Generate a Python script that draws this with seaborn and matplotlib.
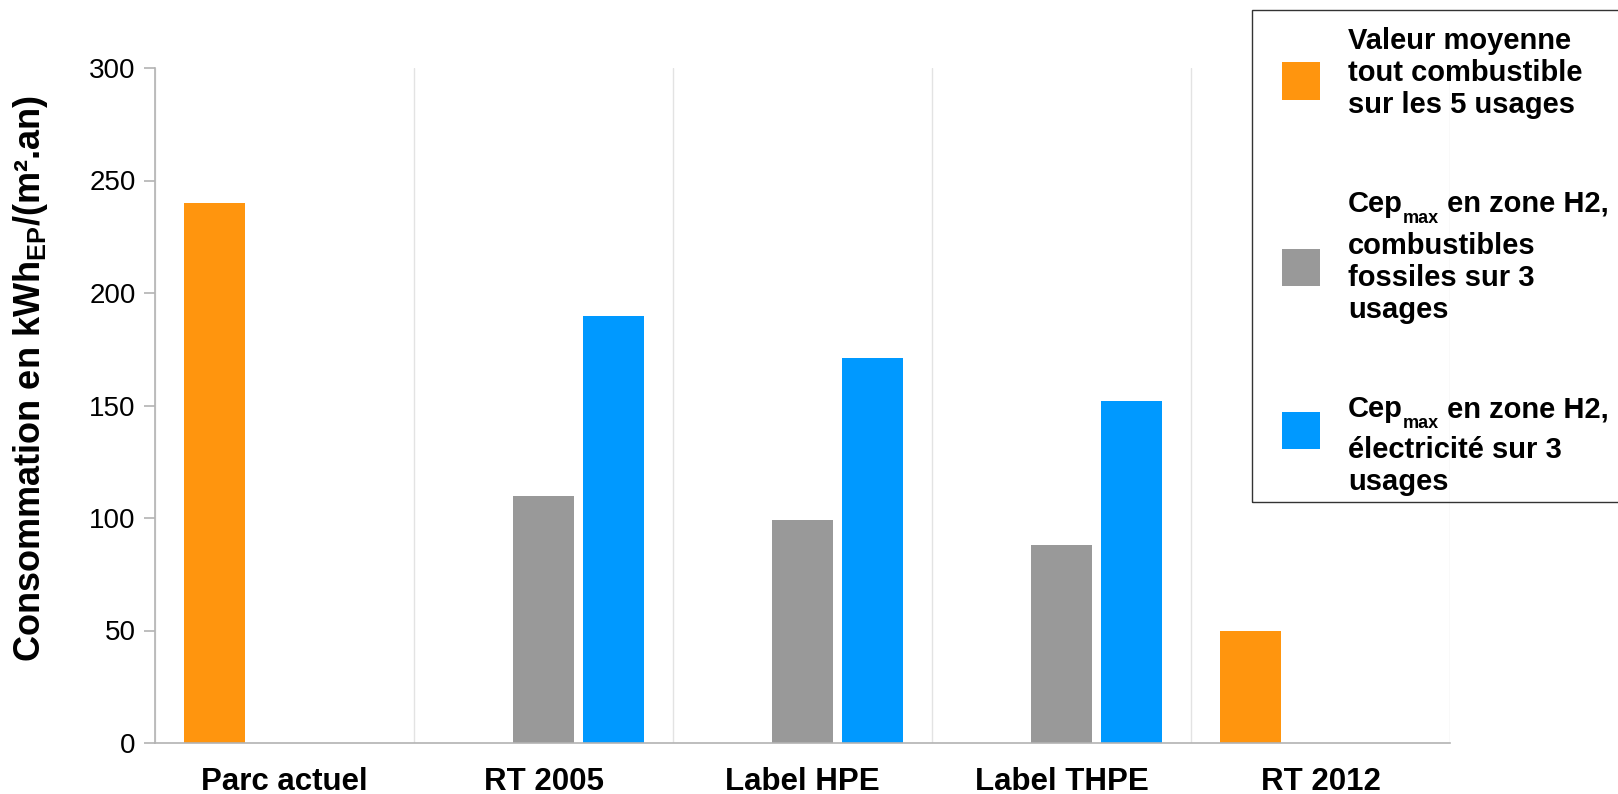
import numpy as np
import pandas as pd
import matplotlib
matplotlib.use("Agg")
import matplotlib.pyplot as plt
import seaborn as sns
from matplotlib.patches import Rectangle
from matplotlib import font_manager

# ---- data ----
categories = ["Parc actuel", "RT 2005", "Label HPE", "Label THPE", "RT 2012"]
series_keys = ["moyenne", "fossiles", "electricite"]
moyenne = [240, np.nan, np.nan, np.nan, 50]
fossiles = [np.nan, 110, 99, 88, np.nan]
electricite = [np.nan, 190, 171, 152, np.nan]
y_ticks = [0, 50, 100, 150, 200, 250, 300]
colors = ["#FF950E", "#999999", "#0099FF"]
# each legend line: list of (text, is_subscript) pieces
legend_lines = [
    [[("Valeur moyenne", False)], [("tout combustible", False)], [("sur les 5 usages", False)]],
    [[("Cep", False), ("max", True), (" en zone H2,", False)],
     [("combustibles", False)], [("fossiles sur 3", False)], [("usages", False)]],
    [[("Cep", False), ("max", True), (" en zone H2,", False)],
     [("électricité sur 3", False)], [("usages", False)]],
]
y_label = "Consommation en kWh$_{EP}$/(m².an)"

# ---- style ----
sns.set_style("white")
plt.rcParams["font.family"] = ["Liberation Sans", "DejaVu Sans"]
plt.rcParams["mathtext.default"] = "regular"
for k in ["text.color", "axes.labelcolor", "xtick.labelcolor", "ytick.labelcolor"]:
    plt.rcParams[k] = "black"
installed = {f.name for f in font_manager.fontManager.ttflist}
tick_family = "Liberation Sans Narrow" if "Liberation Sans Narrow" in installed else "Liberation Sans"

W, H = 1618, 794
fig = plt.figure(figsize=(W / 100, H / 100), dpi=100)
ax = fig.add_axes([155 / W, 51 / H, 1295 / W, 675 / H])

rows = []
for key, vals in zip(series_keys, [moyenne, fossiles, electricite]):
    for cat, v in zip(categories, vals):
        if not np.isnan(v):
            rows.append({"categorie": cat, "serie": key, "valeur": v})
df = pd.DataFrame(rows)

sns.barplot(data=df, x="categorie", y="valeur", hue="serie",
            order=categories, hue_order=series_keys, palette=colors,
            width=0.81, gap=0.128, dodge=True, saturation=1,
            errorbar=None, legend=False, linewidth=0, ax=ax)

ax.set_xlim(-0.5, 4.5)
ax.set_ylim(0, 300)
ax.set_xlabel("")

# category boundaries: minor ticks + vertical grid
ax.set_xticks(range(len(categories)))
ax.set_xticklabels(categories, fontsize=22.5, fontweight="bold")
ax.set_xticks(np.arange(-0.5, len(categories), 1), minor=True)
ax.tick_params(axis="x", which="major", length=0, pad=17)
ax.tick_params(axis="x", which="minor", length=8, width=1.2, color="#b3b3b3", direction="out")
ax.grid(axis="x", which="minor", color="#e3e3e3", lw=1)
ax.grid(axis="y", visible=False)
ax.set_axisbelow(True)

ax.set_yticks(y_ticks)
ax.set_yticklabels([str(t) for t in y_ticks], fontsize=20, family=tick_family)
ax.tick_params(axis="y", length=8, width=1.2, color="#b3b3b3", pad=6, direction="out", left=True)

for s in ["top", "right"]:
    ax.spines[s].set_visible(False)
for s in ["left", "bottom"]:
    ax.spines[s].set_color("#b3b3b3")
    ax.spines[s].set_linewidth(1.2)

ax.set_ylabel(y_label, fontsize=26, fontweight="bold", va="center")
ax.yaxis.set_label_coords((31 - 155) / 1295, (743 - 378) / 675)

# ---- legend box ----
fig.add_artist(Rectangle((1252 / W, 1 - 502 / H), (1630 - 1252) / W, (502 - 10) / H,
                         transform=fig.transFigure, fill=False, ec="#333333", lw=1))
renderer = fig.canvas.get_renderer()


def draw_line(x_px, baseline_px, pieces):
    """Write one legend line piece by piece, lowering the subscript pieces."""
    x = x_px
    for text, sub in pieces:
        size = 13 if sub else 21
        drop = 11 if sub else 0
        t = fig.text(x / W, 1 - (baseline_px + drop) / H, text, fontsize=size,
                     fontweight="bold", ha="left", va="baseline")
        bb = t.get_window_extent(renderer)
        x = bb.x1


square_centers = [81, 267, 430]
baselines = [[49, 81, 113], [212, 254, 286, 318], [417, 458, 490]]
for color, cy, lines, bls in zip(colors, square_centers, legend_lines, baselines):
    fig.add_artist(Rectangle((1282 / W, 1 - (cy + 18.5) / H), 38 / W, 37 / H,
                             transform=fig.transFigure, color=color, lw=0))
    for pieces, bl in zip(lines, bls):
        draw_line(1348, bl, pieces)

fig.savefig("out.png", dpi=100)
